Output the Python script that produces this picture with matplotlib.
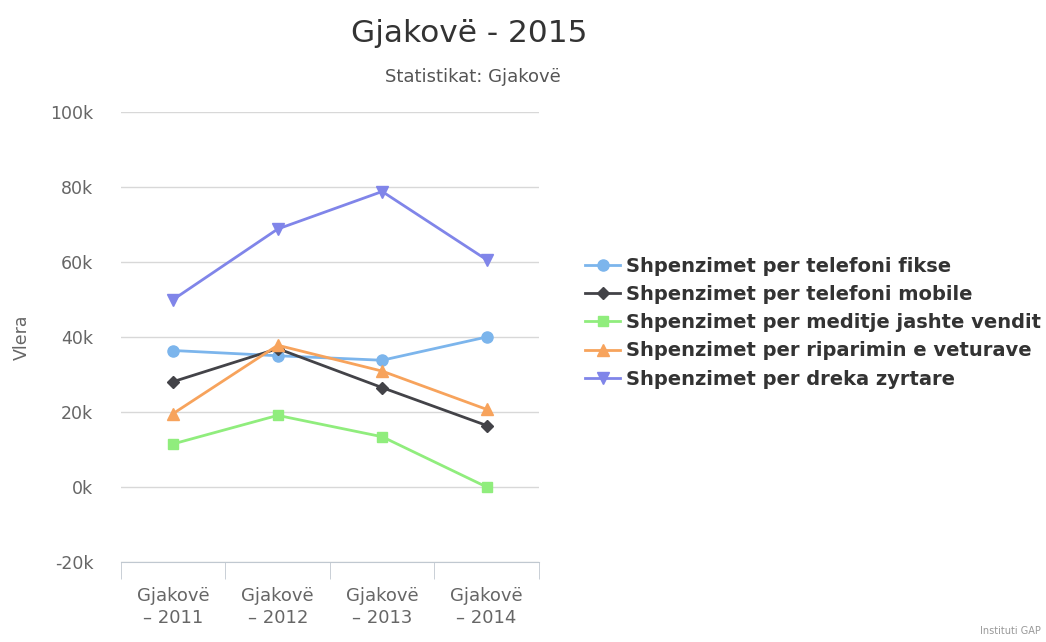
import matplotlib.pyplot as plt
from matplotlib.ticker import FuncFormatter, FixedLocator
import numpy as np

plt.rcParams['font.family'] = ['DejaVu Sans']

categories = ['Gjakovë\n– 2011', 'Gjakovë\n– 2012', 'Gjakovë\n– 2013', 'Gjakovë\n– 2014']
series_names = [
    'Shpenzimet per telefoni fikse',
    'Shpenzimet per telefoni mobile',
    'Shpenzimet per meditje jashte vendit',
    'Shpenzimet per riparimin e veturave',
    'Shpenzimet per dreka zyrtare',
]
fikse = [36400, 35000, 33800, 40000]
mobile = [28100, 36900, 26500, 16400]
meditje = [11500, 19100, 13400, 0]
riparimi = [19600, 37800, 30900, 20700]
dreka = [50000, 68800, 78800, 60600]

colors = ['#7cb5ec', '#434348', '#90ed7d', '#f7a35c', '#8085e9']
markers = ['o', 'D', 's', '^', 'v']
msizes = [8, 6, 7.5, 8, 8]

fig = plt.figure(figsize=(10.46, 6.42), dpi=100)
ax = fig.add_axes([0.1157, 1 - 562 / 642, 0.3995, (562 - 112) / 642])

x = np.arange(len(categories))
all_series = [fikse, mobile, meditje, riparimi, dreka]
handles = []
for vals, name, c, m, ms in zip(all_series, series_names, colors, markers, msizes):
    h, = ax.plot(x, vals, color=c, marker=m, markersize=ms, linewidth=2, label=name)
    handles.append(h)

ax.set_xlim(-0.5, len(categories) - 0.5)
ax.set_ylim(-20000, 100000)
ax.set_yticks(np.arange(-20000, 100001, 20000))
ax.yaxis.set_major_formatter(FuncFormatter(lambda v, p: '%dk' % int(round(v / 1000))))
ax.grid(axis='y', color='#d8d8d8', linewidth=1)
ax.set_axisbelow(True)
for s in ['top', 'right', 'left']:
    ax.spines[s].set_visible(False)
ax.spines['bottom'].set_color('#c0c8d0')
ax.tick_params(axis='y', length=0, pad=20, labelsize=12.5, labelcolor='#666666')

# category labels centred, tick marks on the boundaries
ax.set_xticks(x)
ax.set_xticklabels(categories, fontsize=13, color='#666666', linespacing=1.3)
ax.tick_params(axis='x', length=0, pad=18)
ax.xaxis.set_minor_locator(FixedLocator(np.arange(-0.5, len(categories), 1.0)))
ax.tick_params(axis='x', which='minor', length=12, color='#c0c8d0', direction='out')

ax.set_ylabel('Vlera', fontsize=12.5, color='#666666', labelpad=14)

fig.text(0.449, 1 - 33 / 642, 'Gjakovë - 2015', ha='center', va='center', fontsize=22.5, color='#333333')
fig.text(0.452, 1 - 77 / 642, 'Statistikat: Gjakovë', ha='center', va='center', fontsize=13, color='#555555')
fig.text(0.995, 0.01, 'Instituti GAP', ha='right', va='bottom', fontsize=7, color='#999999')

leg = fig.legend(handles=handles, loc='upper left', bbox_to_anchor=(585 / 1046, 1 - 257 / 642),
                 frameon=False, borderpad=0, borderaxespad=0, handlelength=1.8,
                 handletextpad=0.3, labelspacing=0.47,
                 prop={'weight': 'bold', 'size': 14})
for t in leg.get_texts():
    t.set_color('#333333')

fig.savefig('out.png', dpi=100)
